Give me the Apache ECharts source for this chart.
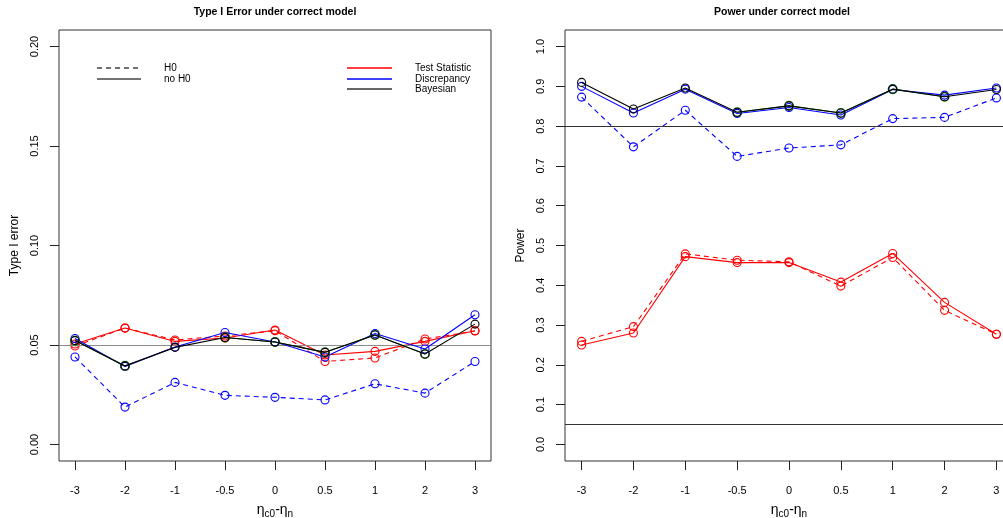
<!DOCTYPE html>
<html>
<head>
<meta charset="utf-8">
<script src="https://cdn.jsdelivr.net/npm/echarts@6/dist/echarts.min.js"></script>
<style>html,body{margin:0;padding:0;background:#fff;overflow:hidden}#c{width:1003px;height:518px}</style>
</head>
<body>
<div id="c"></div>
<script>
// ---- data ----
var categories = ['-3', '-2', '-1', '-0.5', '0', '0.5', '1', '2', '3'];
var leftYTicks = [0, 0.05, 0.10, 0.15, 0.20];
var rightYTicks = [0, 0.1, 0.2, 0.3, 0.4, 0.5, 0.6, 0.7, 0.8, 0.9, 1.0];

// Type I error panel
var t1TestH0   = [0.0495, 0.0585, 0.0525, 0.0545, 0.0572, 0.0417, 0.0435, 0.0530, 0.0570];
var t1TestNo   = [0.0505, 0.0585, 0.0518, 0.0535, 0.0575, 0.0450, 0.0468, 0.0518, 0.0572];
var t1DiscH0   = [0.0440, 0.0188, 0.0312, 0.0247, 0.0237, 0.0224, 0.0305, 0.0258, 0.0417];
var t1DiscNo   = [0.0533, 0.0392, 0.0490, 0.0563, 0.0515, 0.0440, 0.0558, 0.0480, 0.0652];
var t1Bayes    = [0.0522, 0.0395, 0.0488, 0.0538, 0.0515, 0.0463, 0.0550, 0.0455, 0.0605];
var t1Green    = [0.0522, 0.0395, null, 0.0538, 0.0515, 0.0463, 0.0550, 0.0455, null];
var t1RefLines = [0.05];

// Power panel
var pwTestH0   = [0.259, 0.296, 0.479, 0.463, 0.459, 0.398, 0.470, 0.337, 0.277];
var pwTestNo   = [0.250, 0.280, 0.472, 0.457, 0.457, 0.408, 0.480, 0.357, 0.277];
var pwDiscH0   = [0.873, 0.748, 0.840, 0.724, 0.745, 0.753, 0.819, 0.822, 0.871];
var pwDiscNo   = [0.900, 0.833, 0.893, 0.832, 0.847, 0.828, 0.892, 0.878, 0.896];
var pwBayes    = [0.910, 0.843, 0.896, 0.835, 0.851, 0.833, 0.893, 0.874, 0.892];
var pwGreen    = [null, null, null, 0.835, 0.851, 0.833, 0.893, 0.874, null];
var pwRefLines = [0.8, 0.05];

// ---- chart ----
var FONT = 'Liberation Sans, Arial, sans-serif';
var xPos = categories.map(function (c, i) { return i + 1; });
function pts(arr) { return arr.map(function (v, i) { return [i + 1, v]; }); }

function xAxis(g) {
  return {
    type: 'value', gridIndex: g, min: 0.68, max: 9.32, position: 'bottom',
    splitLine: {show: false}, axisLine: {show: false, onZero: false},
    axisTick: {show: true, customValues: xPos, length: 9, lineStyle: {color: '#222', width: 1}},
    axisLabel: {customValues: xPos, formatter: function (v) { return categories[Math.round(v) - 1]; },
      margin: 24, fontSize: 11, color: '#000', fontFamily: FONT},
    name: '{a|η}{s|c0}{a|-η}{s|n}', nameLocation: 'middle', nameGap: 41,
    nameTextStyle: {color: '#000', fontFamily: FONT,
      rich: {a: {fontSize: 14, fontFamily: FONT, color: '#000'},
             s: {fontSize: 10, fontFamily: FONT, color: '#000', padding: [7, 0, 0, 0]}}}
  };
}
function yAxis(g, min, max, ticks, name, gap) {
  return {
    type: 'value', gridIndex: g, min: min, max: max, position: 'left',
    splitLine: {show: false}, axisLine: {show: false, onZero: false},
    axisTick: {show: true, customValues: ticks, length: 9, lineStyle: {color: '#222', width: 1}},
    axisLabel: {customValues: ticks, rotate: 90, margin: 19, fontSize: 11, color: '#000', fontFamily: FONT,
      formatter: function (v) { return ticks === leftYTicks ? v.toFixed(2) : v.toFixed(1); }},
    name: name, nameLocation: 'middle', nameGap: gap,
    nameTextStyle: {fontSize: 12, color: '#000', fontFamily: FONT}
  };
}
function line(g, data, color, dashed, z, size) {
  return {
    type: 'line', xAxisIndex: g, yAxisIndex: g, data: pts(data), z: z,
    symbol: 'circle', symbolSize: size || 8, showSymbol: true,
    connectNulls: false, animation: false,
    lineStyle: {color: color, width: 1.1, type: dashed ? [5, 4] : 'solid'},
    itemStyle: {color: 'rgba(0,0,0,0)', borderColor: color, borderWidth: 1.1}
  };
}
function refLine(g, vals, color) {
  return {
    type: 'line', xAxisIndex: g, yAxisIndex: g, data: [], z: 1, animation: false,
    markLine: {silent: true, symbol: 'none', label: {show: false},
      lineStyle: {color: color, type: 'solid', width: 1.2},
      data: vals.map(function (v) { return {yAxis: v, lineStyle: {color: color}}; })}
  };
}

var RED = '#ff0000', BLUE = '#0000ff', BLACK = '#000000', GREEN = '#1f7a1f';

var series = [
  refLine(0, t1RefLines, '#8c8c8c'),
  line(0, t1TestH0, RED, true, 2),
  line(0, t1TestNo, RED, false, 3),
  line(0, t1DiscH0, BLUE, true, 4),
  line(0, t1DiscNo, BLUE, false, 5),
  line(0, t1Green, GREEN, false, 6, 9),
  line(0, t1Bayes, BLACK, false, 7, 8),
  refLine(1, pwRefLines, '#333333'),
  line(1, pwTestH0, RED, true, 2),
  line(1, pwTestNo, RED, false, 3),
  line(1, pwDiscH0, BLUE, true, 4),
  line(1, pwDiscNo, BLUE, false, 5),
  line(1, pwGreen, GREEN, false, 6, 9),
  line(1, pwBayes, BLACK, false, 7, 8)
];

var legendFont = {fontSize: 10, fill: '#000', fontFamily: FONT};
function lg(x1, x2, y, color, dash) {
  return {type: 'line', shape: {x1: x1, y1: y, x2: x2, y2: y},
    style: {stroke: color, lineWidth: 1.3, lineDash: dash || null}, z: 100};
}
function tx(x, y, t) {
  var s = Object.assign({text: t, x: x, y: y, textVerticalAlign: 'middle'}, legendFont);
  return {type: 'text', style: s, z: 100};
}

var chart = echarts.init(document.getElementById('c'), null, {renderer: 'canvas', width: 1003, height: 518});
chart.setOption({
  animation: false,
  backgroundColor: '#fff',
  grid: [
    {left: 59, width: 432, top: 30, height: 431, containLabel: false, outerBoundsMode: 'none',
      show: true, borderColor: '#333', borderWidth: 1, backgroundColor: 'transparent'},
    {left: 565, width: 448, top: 30, height: 431, containLabel: false, outerBoundsMode: 'none',
      show: true, borderColor: '#333', borderWidth: 1, backgroundColor: 'transparent'}
  ],
  xAxis: [xAxis(0), xAxis(1)],
  yAxis: [
    yAxis(0, -0.0083, 0.2083, leftYTicks, 'Type I error', 38),
    yAxis(1, -0.0417, 1.0417, rightYTicks, 'Power', 38)
  ],
  series: series,
  graphic: [
    {type: 'text', style: {text: 'Type I Error under correct model', x: 275, y: 12, textAlign: 'center', textVerticalAlign: 'middle',
      fontSize: 10.5, fontWeight: 'bold', fill: '#000', fontFamily: FONT}},
    {type: 'text', style: {text: 'Power under correct model', x: 782, y: 12, textAlign: 'center', textVerticalAlign: 'middle',
      fontSize: 10.5, fontWeight: 'bold', fill: '#000', fontFamily: FONT}},
    lg(97, 139, 68, '#444', [5, 4]),
    lg(97, 141, 79, '#444'),
    tx(164, 68, 'H0'),
    tx(164, 79, 'no H0'),
    lg(347, 392, 68, RED),
    lg(347, 392, 79, BLUE),
    lg(347, 392, 89, '#333'),
    tx(415, 68, 'Test Statistic'),
    tx(415, 79, 'Discrepancy'),
    tx(415, 89, 'Bayesian')
  ]
});
</script>
</body>
</html>
